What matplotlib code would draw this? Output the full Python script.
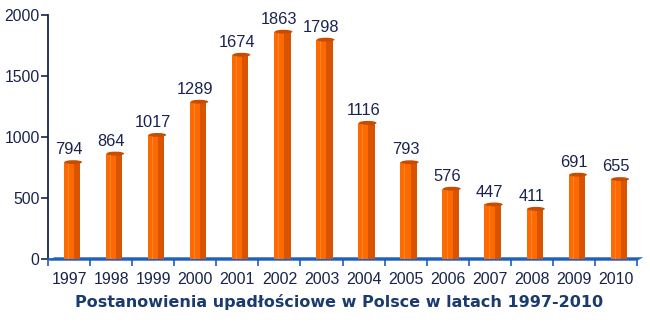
import numpy as np
import matplotlib.pyplot as plt
from matplotlib.patches import Rectangle, Ellipse, Polygon

years = ["1997", "1998", "1999", "2000", "2001", "2002", "2003",
         "2004", "2005", "2006", "2007", "2008", "2009", "2010"]
counts = [794, 864, 1017, 1289, 1674, 1863, 1798, 1116, 793, 576, 447, 411, 691, 655]
title = "Postanowienia upadłościowe w Polsce w latach 1997-2010"

navy = "#18244f"
orange = "#ff6a00"
dark_orange = "#d95400"

fig = plt.figure(figsize=(6.5, 3.22), dpi=100)
ax = fig.add_axes([48/650, 1-259/322, 589/650, (259-15)/322])

n = len(years)
x = np.arange(n)
w = 0.39
off = 0.07

for xi, v in zip(x, counts):
    left = xi - w/2 + off
    ax.add_patch(Rectangle((left, 0), w, v, facecolor=orange, edgecolor="none", zorder=3))
    ax.add_patch(Rectangle((left + w*0.62, 0), w*0.38, v, facecolor=dark_orange,
                           edgecolor="none", zorder=3))
    ax.plot([left + w*0.25, left + w*0.25], [0, v], color="#ff8c3a", lw=0.6, zorder=4)
    ax.add_patch(Ellipse((left + w/2 + 0.03, v), w + 0.03, 32, facecolor="#c84c00",
                         edgecolor="none", zorder=4))
    ax.text(xi, v + 40, str(v), ha="center", va="bottom", fontsize=11.8,
            family="Liberation Sans", color=navy, zorder=5)

# floor
ax.add_patch(Polygon([(-0.5, -14), (n - 0.5, -14), (n - 0.35, 14), (-0.35, 14)],
                     closed=True, facecolor="#1f5fbf", edgecolor="none", zorder=2,
                     clip_on=False))

ax.set_xlim(-0.5, n - 0.5)
ax.set_ylim(0, 2000)
ax.set_yticks([0, 500, 1000, 1500, 2000])
ax.set_xticks(x)
ax.set_xticklabels(years, family="Liberation Sans", fontsize=11.5, color=navy)
ax.set_xticks(np.arange(n + 1) - 0.5, minor=True)
ax.tick_params(axis="x", which="major", length=0, pad=9)
ax.tick_params(axis="x", which="minor", length=5, color="#1f5fbf", width=1.2)
ax.tick_params(axis="y", length=5, color=navy, width=1.2, labelsize=11.3, labelcolor=navy, pad=1)
for lbl in ax.get_yticklabels():
    lbl.set_family("Liberation Sans")

for s in ["top", "right"]:
    ax.spines[s].set_visible(False)
ax.spines["left"].set_color(navy)
ax.spines["left"].set_linewidth(1.3)
ax.spines["bottom"].set_color("#1f5fbf")
ax.spines["bottom"].set_linewidth(1.3)

fig.text(0.5 * (75 + 604) / 650, 1 - 302/322, title, ha="center", va="center",
         fontsize=11.5, fontweight="bold", color="#1b3a6e", family="DejaVu Sans")

fig.savefig("out.png", dpi=100)
